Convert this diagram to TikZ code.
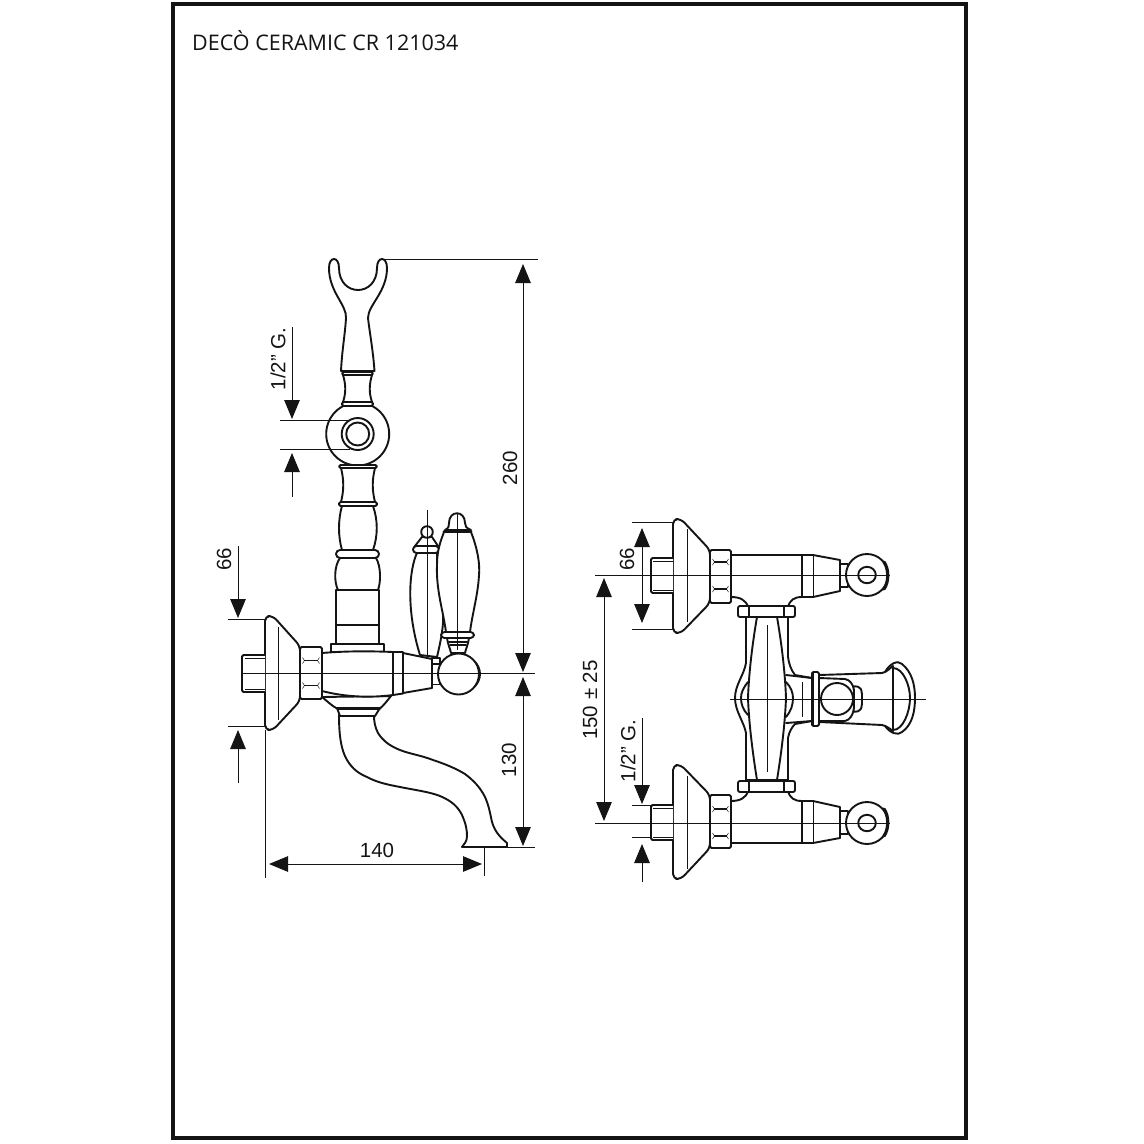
\documentclass[tikz,border=0pt]{standalone}
\usepackage{fontspec}
\setmainfont{Liberation Sans}
\newfontfamily\titlefont{Open Sans}
\usetikzlibrary{arrows.meta}
\definecolor{ink}{HTML}{141414}
\tikzset{
  part/.style={draw=ink,line width=1.9pt,line join=round,fill=white},
  open/.style={draw=ink,line width=1.9pt,line join=round,line cap=round},
  thin/.style={draw=ink,line width=1pt},
  hair/.style={draw=ink,line width=0.5pt},
  dimline/.style={draw=ink,line width=1pt},
  dimtext/.style={font=\fontsize{20.5}{21}\selectfont,text=ink,inner sep=0pt},
}
% one valve body of the right-hand view, drawn for the upper position
\newcommand{\valveunit}{%
  % flange
  \draw[part,rounded corners=5pt] (673,633)--(673,519)--(681,519)--(710,550)--(710,603)--(681,633)--cycle;
  \draw[thin] (687,529)--(687,622);
  % stub
  \draw[part,rounded corners=1.5pt] (673,558)--(651,558)--(651,593)--(673,593);
  \draw[thin] (653,561)--(673,561);
  \draw[thin] (653,590)--(673,590);
  % body
  \draw[part] (731,555)--(802,555)--(802,597) .. controls (794,597) and (790,600) .. (788,607)
     --(748,607) .. controls (746,600) and (740,597) .. (731,597)--cycle;
  % hex nut
  \draw[part,rounded corners=1.5pt] (710,550)--(731,550)--(731,603)--(710,603)--cycle;
  \draw[thin,line width=1.3pt] (714,562)--(727,562);
  \draw[thin,line width=1.3pt] (714,589)--(727,589);
  \draw[hair] (712.5,559)--(714.5,562)--(712.5,565);
  \draw[hair] (728.5,559)--(726.5,562)--(728.5,565);
  \draw[hair] (712.5,586)--(714.5,589)--(712.5,592);
  \draw[hair] (728.5,586)--(726.5,589)--(728.5,592);
  % head
  \draw[part] (802,555)--(813,555)--(840,560)--(840,591)--(813,597)--(802,597)--cycle;
  \draw[thin] (813,555)--(813,597);
  \draw[part] (840,564)--(848,564)--(848,587)--(840,587)--cycle;
  % ball
  \draw[part] (867,575) circle (21);
  \draw[open,line width=3.2pt] (884,562) .. controls (889,569) and (889,582) .. (884,589);
  \draw[part] (858.2,575) arc[start angle=180,end angle=540,x radius=8.8,y radius=8.2];
  % bar
  \draw[part,rounded corners=2pt] (738,606)--(795,606)--(795,617)--(738,617)--cycle;
  \draw[open] (749,606)--(749,617);
  \draw[open] (784,606)--(784,617);
  % centre line
  \draw[thin] (595,575)--(890,575);
}
\begin{document}
\begin{tikzpicture}[x=1pt,y=-1pt]
\useasboundingbox (0,0) rectangle (1144,1144);
\fill[white] (0,0) rectangle (1144,1144);
\draw[ink,line width=4pt] (172.5,4) rectangle (966,1138);
\node[anchor=west,inner sep=0pt,text=ink,font=\titlefont\fontsize{21.5}{22}\selectfont] (title) at (192,41) {DECÒ CERAMIC CR 121034};

%%%%%% LEFT VIEW
% fork
\draw[part] (341,371) .. controls (342,350) and (345,335) .. (346,318)
  .. controls (347,305) and (329,292) .. (329,268)
  .. controls (329,256) and (339,256) .. (339,268)
  .. controls (339,282) and (348,290) .. (358,290)
  .. controls (368,290) and (377,282) .. (377,268)
  .. controls (377,256) and (387,256) .. (387,268)
  .. controls (387,292) and (368,305) .. (368,318)
  .. controls (370,335) and (373,350) .. (374.5,371)--cycle;
% sphere
\draw[part] (357.7,434) circle (31.5);
\draw[open] (357.7,434) circle (16);
\draw[open] (357.7,434) circle (11.5);
% upper collar
\draw[part] (343,375) .. controls (346,385) and (346,393) .. (343,402)--(372,402) .. controls (369,393) and (369,385) .. (372,375)--cycle;
\draw[part,rounded corners=1.5pt] (342,372)--(373,372)--(373,375)--(342,375)--cycle;
\draw[part,rounded corners=1.5pt] (342,402)--(373,402)--(373,406)--(342,406)--cycle;
% lower collar
\draw[part] (341,468) .. controls (344,480) and (344,490) .. (341,502)--(375,502) .. controls (372,490) and (372,480) .. (375,468)--cycle;
\draw[part,rounded corners=1.5pt] (339,465)--(377,465)--(377,468)--(339,468)--cycle;
\draw[part,rounded corners=1.5pt] (339,502)--(377,502)--(377,506)--(339,506)--cycle;
% bulged body
\draw[part] (342,506) .. controls (338,520) and (338,536) .. (342,550)--(373,550) .. controls (378,536) and (378,520) .. (373,506)--cycle;
% ball
\draw[part] (340,558) .. controls (334,566) and (334,582) .. (338,590)--(378,590) .. controls (381,582) and (381,566) .. (376,558)--cycle;
% ring
\draw[part,rounded corners=4pt] (336,550)--(379,550)--(379,558)--(336,558)--cycle;
% block
\draw[part] (336,590)--(379,590)--(379,644)--(336,644)--cycle;
\draw[open] (336,625)--(379,625);
\draw[part] (331,644)--(384,644)--(384,652)--(331,652)--cycle;
% spout
\draw[part] (339,715) .. controls (339,735) and (341,750) .. (347,760)
  .. controls (353,770) and (360,774) .. (367,777)
  .. controls (378,783) and (390,785) .. (400,787)
  .. controls (415,790) and (430,792) .. (440,796)
  .. controls (452,801) and (458,807) .. (462,815)
  .. controls (466,824) and (467,830) .. (467,836)
  .. controls (467,842) and (464,844) .. (462,847)
  -- (507,847) -- (507,843) .. controls (500,837) and (495,832) .. (492,822)
  .. controls (490,813) and (489,806) .. (485,797)
  .. controls (480,787) and (473,780) .. (465,774)
  .. controls (455,768) and (445,764) .. (433,760)
  .. controls (420,755) and (410,754) .. (400,750)
  .. controls (390,746) and (383,741) .. (378,733)
  .. controls (375,727) and (374,722) .. (374,715)--cycle;
% spout root
\draw[part] (322,697) .. controls (327,701) and (332,706) .. (337,708.5)--(380,708.5) .. controls (384,705) and (387,701) .. (391,696)--cycle;
\draw[part] (337,708)--(380,708)--(375,716)--(340,716)--cycle;
\draw[open,line width=2.6pt] (338,708.5)--(379,708.5);
% back handle
\draw[open,fill=white] (417,553) .. controls (409,570) and (406,610) .. (420,655)--(437,657)
  .. controls (441,640) and (444,625) .. (443,612) .. controls (440,590) and (437,570) .. (437,553)--cycle;
\draw[open,fill=white] (422,537) -- (415,546) -- (438,546) -- (432,537) --cycle;
\draw[part] (427,532) circle (5.8);
\draw[part,rounded corners=3.5pt] (413,546)--(439,546)--(439,553)--(413,553)--cycle;
\draw[thin] (427,510)--(427,656);
% front handle
\draw[part] (445,530) .. controls (449,528) and (449,526) .. (449,523)
  .. controls (449,510) and (465,510) .. (465,523)
  .. controls (465,526) and (466,528) .. (471,530)--cycle;
\draw[part] (444,532)--(471,532) .. controls (478,550) and (480,565) .. (479,575)
  .. controls (478,595) and (472,615) .. (470,632)--(446,632)
  .. controls (443,610) and (436,590) .. (437,565) .. controls (437,550) and (441,540) .. (444,532)--cycle;
\draw[open,line width=2.6pt] (444,531.5)--(471,531.5);
\draw[part] (447,638) .. controls (448,645) and (450,648) .. (451,653)--(465,653) .. controls (466,648) and (468,645) .. (469,638)--cycle;
\draw[part,rounded corners=3.5pt] (441,632)--(474,632)--(474,638)--(441,638)--cycle;
\draw[open] (449,642)--(467,642);
\draw[open] (450,645)--(466,645);
\draw[thin] (457,513)--(457,650);
% main body
\draw[part] (322,653) .. controls (345,651) and (370,651) .. (393,652)--(393,695)
  .. controls (370,698) and (345,697) .. (322,691)--cycle;
\draw[part] (393,652)--(403,652)--(403,693.5)--(393,695)--cycle;
\draw[part] (403,653)--(432,659)--(432,688)--(403,693)--cycle;
\draw[part] (432,658)--(440,658)--(440,684.5)--(432,684.5)--cycle;
\draw[open] (432,664)--(440,664);
\draw[part] (474,661) .. controls (482,668) and (482,680) .. (474,687)--cycle;
\draw[part] (458.5,674) circle (20.5);
% flange + nut + stub
\draw[part,rounded corners=5pt] (265,730)--(265,616)--(273,616)--(300,646)--(300,701)--(273,730)--cycle;
\draw[thin] (278,627)--(278,720);
\draw[part,rounded corners=1.5pt] (265,655)--(242,655)--(242,692)--(265,692);
\draw[thin] (245,658)--(265,658);
\draw[thin] (245,689)--(265,689);
\draw[part,rounded corners=1.5pt] (300,647)--(322,647)--(322,699)--(300,699)--cycle;
\draw[thin,line width=1.3pt] (304,660.5)--(318,660.5);
\draw[thin,line width=1.3pt] (304,685.5)--(318,685.5);
\draw[hair] (302.5,657.5)--(304.5,660.5)--(302.5,663.5);
\draw[hair] (319.5,657.5)--(317.5,660.5)--(319.5,663.5);
\draw[hair] (302.5,682.5)--(304.5,685.5)--(302.5,688.5);
\draw[hair] (319.5,682.5)--(317.5,685.5)--(319.5,688.5);
% centre line
\draw[thin] (241,673)--(535,673);

% dimensions, left view
\coordinate (tt) at (523,264);
\coordinate (tb) at (523,672);
\coordinate (mt) at (523,677);
\coordinate (mb) at (523,846);
\draw[dimline,{Triangle[length=19pt,width=15.5pt]}-{Triangle[length=19pt,width=15.5pt]}] (tt)--(tb);
\draw[dimline,{Triangle[length=19pt,width=15.5pt]}-{Triangle[length=19pt,width=15.5pt]}] (mt)--(mb);
\draw[dimline] (385,259)--(538,259);
\draw[dimline] (507,847)--(535,847);
\node[dimtext,rotate=90] (d260) at (510,468) {260};
\node[dimtext,rotate=90] (d130) at (509,760) {130};
\coordinate (wl) at (269,864);
\coordinate (wr) at (482,864);
\draw[dimline,{Triangle[length=19pt,width=15.5pt]}-{Triangle[length=19pt,width=15.5pt]}] (wl)--(wr);
\draw[dimline] (265,730)--(265,878);
\draw[dimline] (484,847)--(484,876);
\node[dimtext] (d140) at (377,850) {140};
% 66 left
\draw[dimline] (228,619)--(265,619);
\draw[dimline] (228,726)--(265,726);
\coordinate (a1) at (238,546);
\coordinate (a2) at (238,618);
\coordinate (a3) at (238,783);
\coordinate (a4) at (238,730);
\draw[dimline,-{Triangle[length=19pt,width=15.5pt]}] (a1)--(a2);
\draw[dimline,-{Triangle[length=19pt,width=15.5pt]}] (a3)--(a4);
\node[dimtext,rotate=90] (d66a) at (224,559) {66};
% 1/2 G left
\draw[dimline] (280,420)--(350,420);
\draw[dimline] (280,449)--(350,449);
\coordinate (b1) at (292,327);
\coordinate (b2) at (292,419);
\coordinate (b3) at (292,497);
\coordinate (b4) at (292,453);
\draw[dimline,-{Triangle[length=19pt,width=15.5pt]}] (b1)--(b2);
\draw[dimline,-{Triangle[length=19pt,width=15.5pt]}] (b3)--(b4);
\node[dimtext,rotate=90] (dga) at (278,359) {1/2” G.};

%%%%%% RIGHT VIEW
% outer shell between the bars
\draw[part] (746,617)--(746,663) .. controls (744,675) and (735,685) .. (735,698)
  .. controls (735,711) and (744,722) .. (746,733)--(746,780)--(788,780)--(788,738)
  .. controls (789,732) and (792,727) .. (795,724)--(812,721)--(812,678)--(795,675)
  .. controls (791,670) and (789,664) .. (788,657)--(788,617)--cycle;
\draw[open] (786,675)--(812,678);
\draw[open] (786,723)--(812,721);
% spout seen from above
\draw[part] (885,672) .. controls (890,663) and (898,660) .. (902,664)
  .. controls (912,672) and (915,685) .. (915,698)
  .. controls (915,712) and (912,725) .. (902,732)
  .. controls (898,736) and (890,733) .. (885,726)--cycle;
\draw[open] (893,668) .. controls (903,668) and (910,685) .. (910,698) .. controls (910,712) and (903,730) .. (893,730);
\draw[part] (819,675)--(882,673) .. controls (887,672) and (890,668) .. (893,666)--(893,731)
  .. controls (890,729) and (887,726) .. (882,725)--(819,722)--cycle;
\draw[thin] (893,668)--(893,730);
% yoke
\draw[part,rounded corners=2pt] (853,686)--(860,687)--(862,692)--(862,706)--(860,711)--(853,712)--cycle;
\draw[open,fill=white] (819,678)--(845,679) .. controls (850,680) and (853,684) .. (854,690)--(854,708)
  .. controls (853,715) and (850,720) .. (845,721)--(819,721);
\draw[part] (837,699) circle (16);
% band
\draw[part,rounded corners=1.5pt] (812,672)--(819,672)--(819,726)--(812,726)--cycle;
\draw[open,line width=2.6pt] (812.5,673)--(812.5,725);
\draw[thin] (802,682)--(802,717);
% inner handle
\draw[open] (748,682) .. controls (743,688) and (741,693) .. (741,698) .. controls (741,704) and (743,710) .. (748,715);
\draw[open] (786,682) .. controls (791,687) and (793,693) .. (793,698) .. controls (793,705) and (791,711) .. (786,717);
\draw[part] (757,617) .. controls (753,640) and (749,670) .. (748,698) .. controls (749,725) and (753,755) .. (757,780)
  --(777,780) .. controls (781,755) and (785,725) .. (786,698) .. controls (785,670) and (781,640) .. (777,617)--cycle;
\draw[thin] (767,625)--(767,772);
\draw[thin] (730,699)--(926,699);
% valve units
\valveunit
\begin{scope}[shift={(0,1398)},yscale=-1]
\valveunit
\end{scope}
% dimensions, right view
\coordinate (c1) at (642,528);
\coordinate (c2) at (642,623);
\draw[dimline,{Triangle[length=19pt,width=15.5pt]}-{Triangle[length=19pt,width=15.5pt]}] (c1)--(c2);
\draw[dimline] (632,522)--(673,522);
\draw[dimline] (632,629)--(673,629);
\node[dimtext,rotate=90] (d66b) at (627,559) {66};
\coordinate (e1) at (604,578);
\coordinate (e2) at (604,821);
\draw[dimline,{Triangle[length=19pt,width=15.5pt]}-{Triangle[length=19pt,width=15.5pt]}] (e1)--(e2);
\node[dimtext,rotate=90] (d150) at (590,700) {150 ± 25};
\draw[dimline] (632,805)--(651,805);
\draw[dimline] (632,837)--(651,837);
\coordinate (f1) at (642,718);
\coordinate (f2) at (642,804);
\coordinate (f3) at (642,882);
\coordinate (f4) at (642,844);
\draw[dimline,-{Triangle[length=19pt,width=15.5pt]}] (f1)--(f2);
\draw[dimline,-{Triangle[length=19pt,width=15.5pt]}] (f3)--(f4);
\node[dimtext,rotate=90] (dgb) at (628,751) {1/2” G.};
\end{tikzpicture}
\end{document}
